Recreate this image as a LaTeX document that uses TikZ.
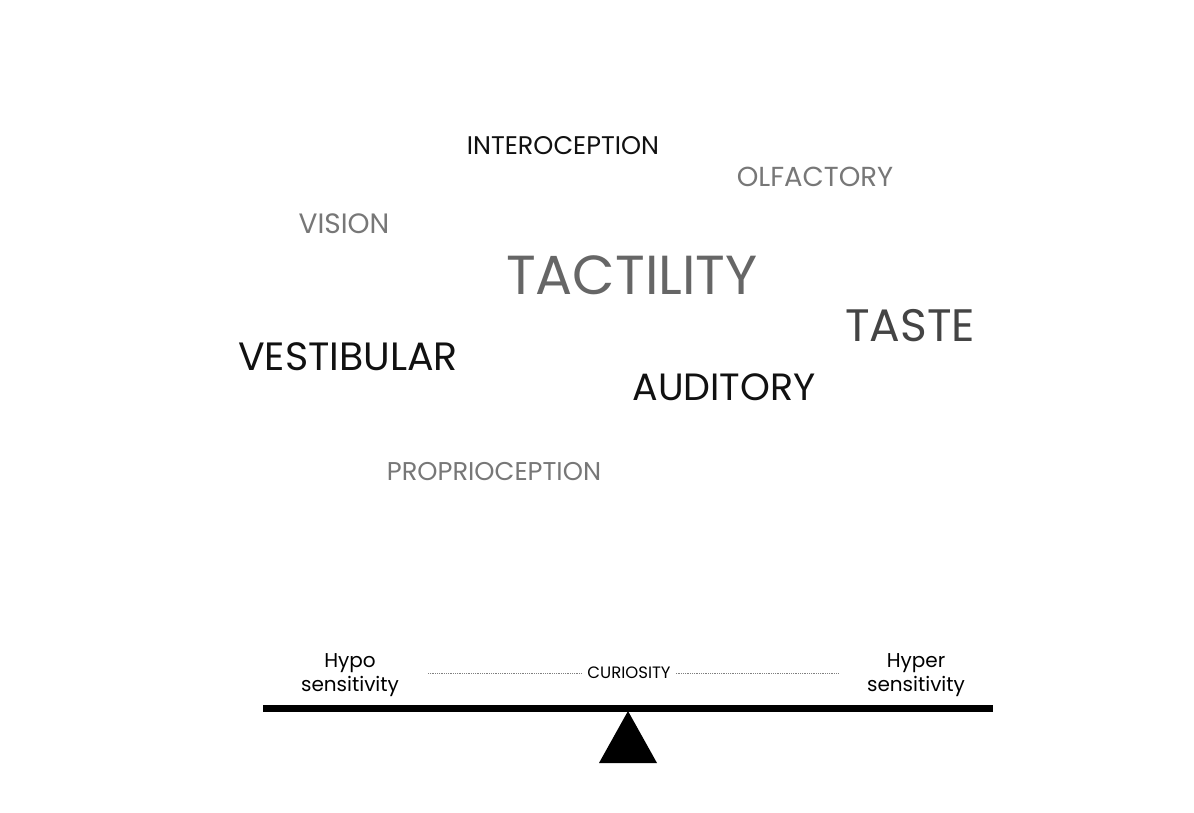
\documentclass[tikz,border=0pt]{standalone}
\usepackage{fontspec}
\setmainfont{Poppins}
\begin{document}
\begin{tikzpicture}[x=1pt,y=-1pt,
  word/.style={inner sep=0pt,anchor=center},
  small/.style={inner sep=0pt,anchor=base,font=\fontsize{20}{23}\selectfont},
  dots/.style={gray,line width=0.8pt,densely dotted}]
\useasboundingbox[fill=white] (0,0) rectangle (1194,813);
\definecolor{gA}{HTML}{777777}
\definecolor{gB}{HTML}{666666}
\definecolor{gC}{HTML}{444444}
\definecolor{kA}{HTML}{111111}
\node[word,text=kA,font=\fontsize{25.5}{29}\selectfont] (intero) at (563,146) {INTEROCEPTION};
\node[word,text=gA,font=\fontsize{27.5}{32}\selectfont] (olf) at (815,177) {OLFACTORY};
\node[word,text=gA,font=\fontsize{28}{33}\selectfont] (vis) at (344,224) {VISION};
\node[word,text=gB,font=\fontsize{55}{60}\selectfont] (tact) at (632,275) {TACTILITY};
\node[word,text=gC,font=\fontsize{45.5}{50}\selectfont] (taste) at (910,326) {TASTE};
\node[word,text=kA,font=\fontsize{39.5}{44}\selectfont] (vest) at (348,357) {VESTIBULAR};
\node[word,text=kA,font=\fontsize{38}{42}\selectfont] (aud) at (724,387) {AUDITORY};
\node[word,text=gA,font=\fontsize{25.7}{30}\selectfont] (prop) at (494,472) {PROPRIOCEPTION};
\node[small] (hypo) at (350,667) {Hypo};
\node[small] (hyposens) at (350,691) {sensitivity};
\node[small] (hyper) at (916,667) {Hyper};
\node[small] (hypersens) at (916,691) {sensitivity};
\node[word,font=\fontsize{16.5}{19}\selectfont] (cur) at (629,673) {CURIOSITY};
\coordinate (dl) at (428,673);
\coordinate (dr) at (838,673);
\draw[dots] (dl) -- ([xshift=-5pt]cur.west);
\draw[dots] ([xshift=5pt]cur.east) -- (dr);
\coordinate (bl) at (263,708.5);
\coordinate (br) at (993,708.5);
\draw[line width=7pt,black] (bl) -- (br);
\coordinate (apex) at (628,711);
\coordinate (tl) at (599,763);
\coordinate (tr) at (657,763);
\fill[black] (apex) -- (tr) -- (tl) -- cycle;
\end{tikzpicture}
\end{document}
